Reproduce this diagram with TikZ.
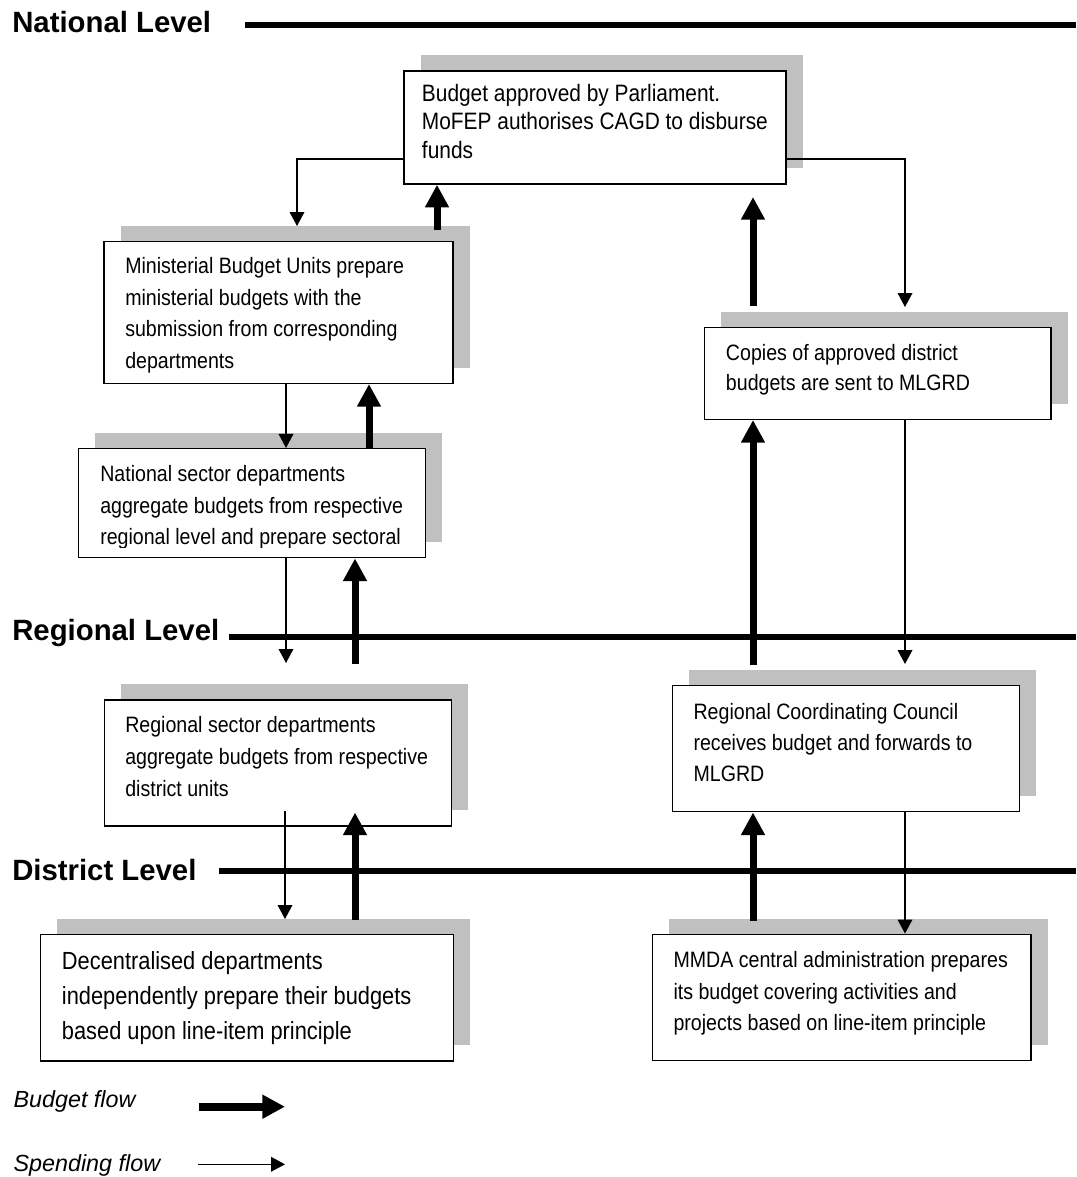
\documentclass[tikz,border=0pt]{standalone}
\usepackage{fontspec}
\setmainfont{Liberation Sans}
\newfontfamily\bodyfont{Liberation Sans}[FakeStretch=0.88]
\newfontfamily\headfont{Liberation Sans}
\usetikzlibrary{arrows.meta,fit,shadows}
\definecolor{shadowgray}{RGB}{192,192,192}
\newcommand{\boxlines}[1]{\begin{tabular}[t]{@{}l@{}}#1\end{tabular}}
\begin{document}
\begin{tikzpicture}[x=0.75pt,y=-0.75pt,
  box/.style={draw=black, line width=1.1pt, fill=white, inner sep=0pt,
    drop shadow={shadow xshift=12.4pt, shadow yshift=11.8pt, fill=shadowgray, opacity=1}},
  boxtxt/.style={anchor=base west, inner sep=0pt, font=\bodyfont\fontsize{16.7}{23.8}\selectfont},
  head/.style={anchor=base west, inner sep=0pt, font=\headfont\bfseries\fontsize{22}{26}\selectfont},
  legtxt/.style={anchor=base west, inner sep=0pt, font=\headfont\itshape\fontsize{17.5}{21}\selectfont},
  level/.style={line width=4pt},
  spend/.style={line width=1pt, -{Triangle[length=10.5pt, width=11pt]}},
  budget/.style={line width=5.25pt, -{Triangle[length=17pt, width=17pt]}}
]
\useasboundingbox (0,0) rectangle (1076,1177);

% ---- level headings and rules
\node[head] (nat) at (12,33) {National Level};
\node[head] (reg) at (12,640) {Regional Level};
\node[head] (dis) at (12,880) {District Level};
\coordinate (natL) at (245,25);  \coordinate (natR) at (1076,25);
\coordinate (regL) at (229,637); \coordinate (regR) at (1076,637);
\coordinate (disL) at (219,871); \coordinate (disR) at (1076,871);
\draw[level] (natL) -- (natR);
\draw[level] (regL) -- (regR);
\draw[level] (disL) -- (disR);

% ---- boxes
\node[box, fit={(404,71) (786,184)}] (A) {};
\node[boxtxt, font=\bodyfont\fontsize{17.8}{21.2}\selectfont] (Atxt) at (421.7,101.7)
  {\boxlines{Budget approved by Parliament.\\MoFEP authorises CAGD to disburse\\funds}};

\node[box, fit={(104,241.7) (453,383.3)}] (B) {};
\node[boxtxt] (Btxt) at (125,273.3)
  {\boxlines{Ministerial Budget Units prepare\\ministerial budgets with the\\submission from corresponding\\departments}};

\node[box, fit={(78.3,448.7) (425.7,557.7)}] (C) {};
\begin{scope}
\clip (79,449) rectangle (425,547);
\node[boxtxt, font=\bodyfont\fontsize{16.7}{23.5}\selectfont] (Ctxt) at (100,481.7)
  {\boxlines{National sector departments\\aggregate budgets from respective\\regional level and prepare sectoral}};
\end{scope}

\node[box, fit={(704.3,327.7) (1051,419.3)}] (Cp) {};
\node[boxtxt, font=\bodyfont\fontsize{16.7}{23}\selectfont] (Cptxt) at (725.7,360)
  {\boxlines{Copies of approved district\\budgets are sent to MLGRD}};

\node[box, fit={(104.7,700) (451.7,826)}] (D) {};
\node[boxtxt] (Dtxt) at (125,732.7)
  {\boxlines{Regional sector departments\\aggregate budgets from respective\\district units}};

\node[box, fit={(672.3,685.7) (1019.3,811.7)}] (R) {};
\node[boxtxt, font=\bodyfont\fontsize{16.7}{23.2}\selectfont] (Rtxt) at (693.3,719.3)
  {\boxlines{Regional Coordinating Council\\receives budget and forwards to\\MLGRD}};

\node[box, fit={(40.7,934.3) (453.3,1061)}] (E) {};
\node[boxtxt, font=\bodyfont\fontsize{18.6}{26.2}\selectfont] (Etxt) at (61.7,969.3)
  {\boxlines{Decentralised departments\\independently prepare their budgets\\based upon line-item principle}};

\node[box, fit={(652.3,934.3) (1031,1060.7)}] (M) {};
\node[boxtxt, font=\bodyfont\fontsize{16.7}{23.5}\selectfont] (Mtxt) at (673.3,967.7)
  {\boxlines{MMDA central administration prepares\\its budget covering activities and\\projects based on line-item principle}};

% ---- spending flow (thin)
\coordinate (t1b) at (297,159);  \coordinate (t1e) at (297,226);
\coordinate (t2b) at (905,159);  \coordinate (t2e) at (905,307);
\coordinate (xa) at (286,0);     \coordinate (t4e) at (286,663);
\coordinate (t5s) at (285,811);  \coordinate (t5e) at (285,919);
\coordinate (xb) at (905,0);     \coordinate (t6e) at (905,664);
\draw[spend] (A.west |- t1b) -- (t1b) -- (t1e);
\draw[spend] (A.east |- t2b) -- (t2b) -- (t2e);
\draw[spend] (B.south -| xa) -- (C.north -| xa);
\draw[spend] (C.south -| xa) -- (t4e);
\draw[spend] (t5s) -- (t5e);
\draw[spend] (Cp.south -| xb) -- (t6e);
\draw[spend] (R.south -| xb) -- (M.north -| xb);

% ---- budget flow (thick)
\coordinate (k1s) at (437,230);
\coordinate (kx) at (369,0);
\coordinate (k3s) at (355,664);
\coordinate (k4s) at (355,920);  \coordinate (k4e) at (355,812.5);
\coordinate (k5s) at (753,306);  \coordinate (k5e) at (753,197);
\coordinate (k6s) at (753,665);
\coordinate (k7s) at (753,921);
\draw[budget] (k1s) -- (A.south -| k1s);
\draw[budget] (C.north -| kx) -- (B.south -| kx);
\draw[budget] (k3s) -- (C.south -| k3s);
\draw[budget] (k4s) -- (k4e);
\draw[budget] (k5s) -- (k5e);
\draw[budget] (k6s) -- (Cp.south -| k6s);
\draw[budget] (k7s) -- (R.south -| k7s);

% ---- legend
\node[legtxt] (lb) at (13.3,1107.7) {Budget flow};
\node[legtxt] (ls) at (13.3,1171.7) {Spending flow};
\coordinate (lb1) at (199,1106.7); \coordinate (lb2) at (285,1106.7);
\coordinate (ls1) at (198,1164.3); \coordinate (ls2) at (285,1164.3);
\draw[budget, line width=6pt] (lb1) -- (lb2);
\draw[spend] (ls1) -- (ls2);
\end{tikzpicture}
\end{document}
